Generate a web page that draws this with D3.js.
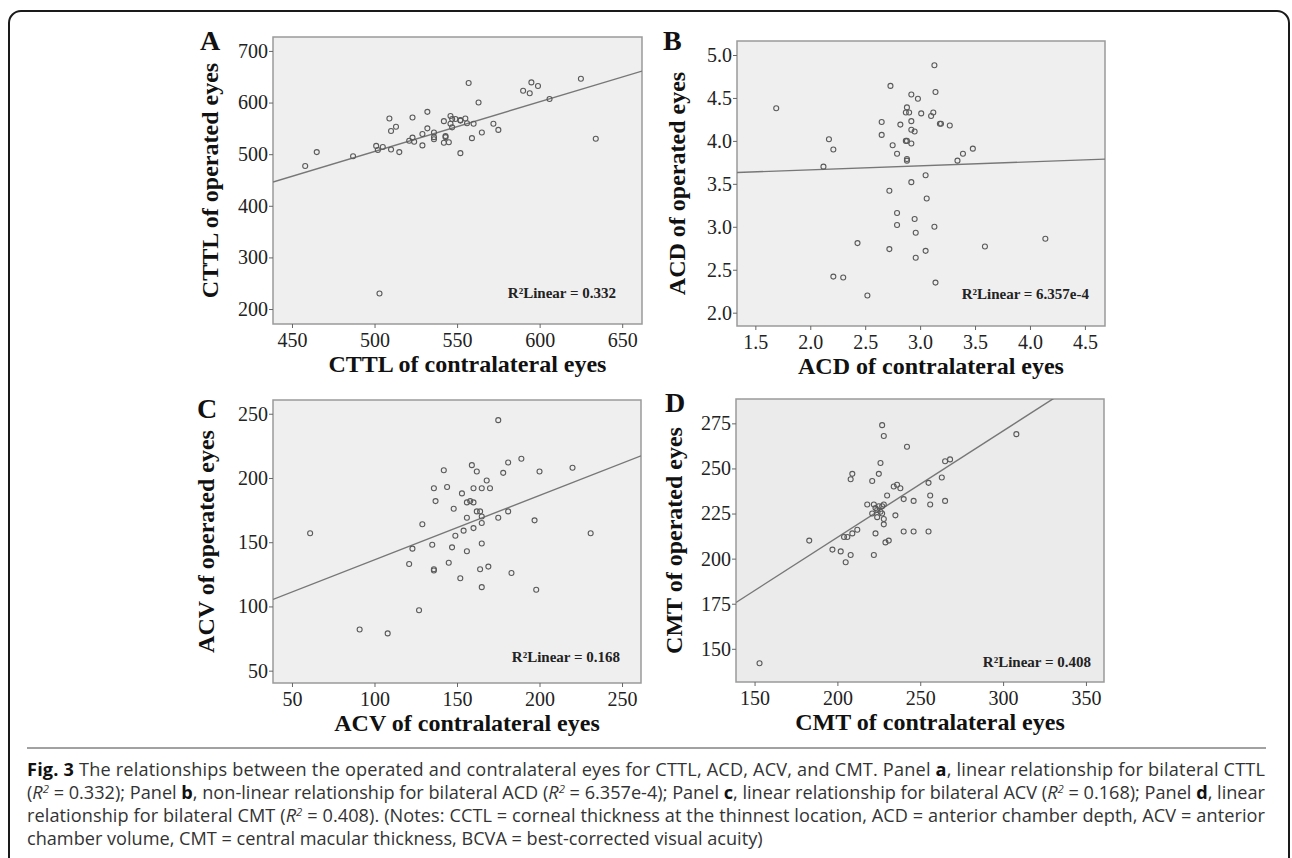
<!DOCTYPE html>
<html>
<head>
<meta charset="utf-8">
<script src="https://cdn.jsdelivr.net/npm/d3@7"></script>
<style>
body { margin: 0; background: #fff; }
svg { display: block; }
.axis text { font-family: "Liberation Serif", "Times New Roman", serif; font-size: 20px; fill: #222; }
.axis path { display: none; }
.axis line { stroke: #666; }
.title { font-family: "Liberation Serif", "Times New Roman", serif; font-weight: bold; font-size: 24px; fill: #111; }
.letter { font-family: "Liberation Serif", "Times New Roman", serif; font-weight: bold; font-size: 28px; fill: #111; }
.r2 { font-family: "Liberation Serif", "Times New Roman", serif; font-weight: bold; font-size: 15px; fill: #222; }
.dot { fill: none; stroke: #5a5a5a; stroke-width: 1.1; }
.fit { stroke: #777; stroke-width: 1.4; fill: none; }
.caption { font-family: "Open Sans", "Noto Sans", sans-serif; font-size: 15px; fill: #333; }
</style>
</head>
<body>
<svg id="fig" width="1292" height="858"></svg>
<script>
// Panel A: CTTL
var cttlContra = [458, 465, 487, 501, 502, 505, 509, 510, 510, 513, 515, 521, 523, 523, 524, 529, 529, 532, 532, 536,
    536, 536, 542, 542, 543, 543, 545, 546, 546, 547, 547, 549, 552, 552, 552, 555, 556, 557, 559, 560,
    563, 565, 572, 575, 590, 594, 595, 599, 606, 625, 634, 503];
var cttlOperated = [477, 504, 496, 516, 508, 514, 569, 545, 509, 553, 504, 526, 571, 532, 524, 539, 517, 582, 550, 542,
    533, 529, 564, 522, 535, 533, 523, 574, 559, 552, 568, 568, 565, 566, 502, 569, 560, 638, 531, 559,
    600, 542, 559, 547, 623, 618, 639, 632, 607, 646, 530, 230];

// Panel B: ACD
var acdContra = [1.69, 2.17, 2.21, 2.12, 2.43, 2.21, 2.30, 2.52, 2.73, 2.65, 2.65, 2.82, 2.75, 2.79, 2.88, 2.87, 2.90, 2.92, 2.98, 3.01,
    2.92, 2.92, 2.95, 2.87, 2.88, 2.92, 2.88, 2.88, 3.12, 3.10, 3.13, 3.14, 3.18, 3.19, 3.27, 3.34, 3.39, 3.48, 3.05, 2.92,
    2.72, 3.06, 2.79, 2.95, 2.79, 3.13, 2.96, 2.72, 3.05, 2.96, 3.14, 3.59, 4.14];
var acdOperated = [4.38, 4.02, 3.90, 3.70, 2.81, 2.42, 2.41, 2.20, 4.64, 4.22, 4.07, 4.19, 3.95, 3.85, 4.39, 4.33, 4.33, 4.54, 4.49, 4.32,
    4.23, 4.13, 4.11, 4.00, 4.00, 3.97, 3.79, 3.77, 4.33, 4.29, 4.88, 4.57, 4.20, 4.20, 4.18, 3.77, 3.85, 3.91, 3.60, 3.52,
    3.42, 3.33, 3.16, 3.09, 3.02, 3.00, 2.93, 2.74, 2.72, 2.64, 2.35, 2.77, 2.86];

// Panel C: ACV
var acvContra = [61, 129, 123, 121, 135, 136, 137, 136, 136, 142, 144, 148, 147, 145, 149, 153, 152, 154, 156, 158,
    160, 156, 156, 159, 162, 160, 160, 162, 164, 165, 165, 165, 165, 164, 165, 168, 170, 169, 175, 178,
    181, 181, 183, 189, 197, 198, 200, 220, 231, 175, 91, 108, 127];
var acvOperated = [157, 164, 145, 133, 148, 192, 182, 129, 128, 206, 193, 176, 146, 134, 155, 188, 122, 159, 181, 182,
    181, 169, 143, 210, 205, 192, 161, 174, 174, 192, 170, 165, 149, 129, 115, 198, 192, 131, 169, 204,
    212, 174, 126, 215, 167, 113, 205, 208, 157, 245, 82, 79, 97];

// Panel D: CMT
var cmtContra = [183, 197, 202, 205, 208, 204, 206, 209, 212, 208, 209, 218, 221, 222, 221, 223, 224, 224, 223, 222,
    225, 226, 225, 226, 227, 227, 228, 228, 228, 229, 231, 230, 234, 236, 238, 235, 240, 240, 242, 246,
    246, 228, 255, 255, 256, 256, 263, 265, 268, 265, 308, 227, 153];
var cmtOperated = [210, 205, 204, 198, 202, 212, 212, 214, 216, 244, 247, 230, 243, 230, 225, 228, 227, 223, 214, 202,
    247, 253, 229, 226, 225, 229, 230, 222, 219, 209, 210, 235, 240, 241, 239, 224, 233, 215, 262, 232,
    215, 268, 242, 215, 235, 230, 245, 254, 255, 232, 269, 274, 142];

// Fit lines: [intercept, slope]
var fitA = [24.2, 0.962];
var fitB = [3.570, 0.0466];
var fitC = [86.2, 0.501];
var fitD = [93.8, 0.590];

// Tick values
var ticksAx = [450, 500, 550, 600, 650];
var ticksAy = [200, 300, 400, 500, 600, 700];
var ticksBx = [1.5, 2.0, 2.5, 3.0, 3.5, 4.0, 4.5];
var ticksBy = [2.0, 2.5, 3.0, 3.5, 4.0, 4.5, 5.0];
var ticksCx = [50, 100, 150, 200, 250];
var ticksCy = [50, 100, 150, 200, 250];
var ticksDx = [150, 200, 250, 300, 350];
var ticksDy = [150, 175, 200, 225, 250, 275];

var labelsR2 = ['R\u00b2Linear = 0.332', 'R\u00b2Linear = 6.357e-4', 'R\u00b2Linear = 0.168', 'R\u00b2Linear = 0.408'];

var svg = d3.select('#fig');

// outer rounded frame
svg.append('rect')
    .attr('x', 9).attr('y', 11)
    .attr('width', 1280).attr('height', 900)
    .attr('rx', 12)
    .attr('fill', 'none')
    .attr('stroke', '#1a1a1a')
    .attr('stroke-width', 2);

var panels = [
    { id: 'A', xs: cttlContra, ys: cttlOperated, fit: fitA, xd: [438.5, 662], yd: [171, 727],
      xt: ticksAx, yt: ticksAy, fmt: d3.format('d'), xlab: 'CTTL of contralateral eyes', ylab: 'CTTL of operated eyes',
      r2: labelsR2[0], box: [273, 37, 642, 324], letter: [200, 50], ytx: 210, r2pos: [616, 298], bg: '#efefef' },
    { id: 'B', xs: acdContra, ys: acdOperated, fit: fitB, xd: [1.333, 4.683], yd: [1.845, 5.163],
      xt: ticksBx, yt: ticksBy, fmt: d3.format('.1f'), xlab: 'ACD of contralateral eyes', ylab: 'ACD of operated eyes',
      r2: labelsR2[1], box: [737, 41, 1105, 326], letter: [663, 50], ytx: 677, r2pos: [1089, 299], bg: '#efefef' },
    { id: 'C', xs: acvContra, ys: acvOperated, fit: fitC, xd: [38.5, 261.5], yd: [40.4, 260.7],
      xt: ticksCx, yt: ticksCy, fmt: d3.format('d'), xlab: 'ACV of contralateral eyes', ylab: 'ACV of operated eyes',
      r2: labelsR2[2], box: [273, 400, 641, 683], letter: [197, 418], ytx: 206, r2pos: [620, 662], bg: '#efefef' },
    { id: 'D', xs: cmtContra, ys: cmtOperated, fit: fitD, xd: [138.8, 360.9], yd: [131.6, 288.5],
      xt: ticksDx, yt: ticksDy, fmt: d3.format('d'), xlab: 'CMT of contralateral eyes', ylab: 'CMT of operated eyes',
      r2: labelsR2[3], box: [736, 399, 1104, 682], letter: [665, 412], ytx: 674, r2pos: [1091, 667], bg: '#ebebeb' }
];

panels.forEach(function (p) {
    var x0 = p.box[0], y0 = p.box[1], x1 = p.box[2], y1 = p.box[3];
    var x = d3.scaleLinear().domain(p.xd).range([x0, x1]);
    var y = d3.scaleLinear().domain(p.yd).range([y1, y0]);

    // plot area
    svg.append('rect')
        .attr('x', x0).attr('y', y0)
        .attr('width', x1 - x0).attr('height', y1 - y0)
        .attr('fill', p.bg)
        .attr('stroke', '#9a9a9a')
        .attr('stroke-width', 1.5);

    svg.append('clipPath').attr('id', 'clip' + p.id)
        .append('rect')
        .attr('x', x0).attr('y', y0)
        .attr('width', x1 - x0).attr('height', y1 - y0);

    // axes
    svg.append('g').attr('class', 'axis')
        .attr('transform', 'translate(0,' + y1 + ')')
        .call(d3.axisBottom(x).tickValues(p.xt).tickFormat(p.fmt).tickSize(4).tickPadding(5));
    svg.append('g').attr('class', 'axis')
        .attr('transform', 'translate(' + x0 + ',0)')
        .call(d3.axisLeft(y).tickValues(p.yt).tickFormat(p.fmt).tickSize(4).tickPadding(1));

    // fit line
    var line = d3.line()
        .x(function (d) { return x(d); })
        .y(function (d) { return y(p.fit[0] + p.fit[1] * d); });
    svg.append('path')
        .datum(p.xd)
        .attr('class', 'fit')
        .attr('clip-path', 'url(#clip' + p.id + ')')
        .attr('d', line);

    // points
    svg.append('g').selectAll('circle')
        .data(p.xs)
        .enter()
        .append('circle')
        .attr('class', 'dot')
        .attr('cx', function (d) { return x(d); })
        .attr('cy', function (d, i) { return y(p.ys[i]); })
        .attr('r', 2.5);

    // R2 label
    svg.append('text')
        .attr('class', 'r2')
        .attr('x', p.r2pos[0]).attr('y', p.r2pos[1])
        .attr('text-anchor', 'end')
        .text(p.r2);

    // axis titles
    svg.append('text')
        .attr('class', 'title')
        .attr('x', (x0 + x1) / 2 + 10)
        .attr('y', y1 + 48)
        .attr('text-anchor', 'middle')
        .text(p.xlab);
    svg.append('text')
        .attr('class', 'title')
        .attr('transform', 'translate(' + p.ytx + ',' + (y0 + y1) / 2 + ') rotate(-90)')
        .attr('text-anchor', 'middle')
        .attr('dy', '0.35em')
        .text(p.ylab);

    // panel letter
    svg.append('text')
        .attr('class', 'letter')
        .attr('x', p.letter[0]).attr('y', p.letter[1])
        .text(p.id);
});

// caption
svg.append('line')
    .attr('x1', 27).attr('x2', 1266)
    .attr('y1', 748).attr('y2', 748)
    .attr('stroke', '#444').attr('stroke-width', 1);

var captionLines = [
    [['b', 'Fig. 3'], ['', ' The relationships between the operated and contralateral eyes for CTTL, ACD, ACV, and CMT. Panel '], ['b', 'a'], ['', ', linear relationship for bilateral CTTL']],
    [['', '('], ['i', 'R'], ['sup', '2'], ['', ' = 0.332); Panel '], ['b', 'b'], ['', ', non-linear relationship for bilateral ACD ('], ['i', 'R'], ['sup', '2'], ['', ' = 6.357e-4); Panel '], ['b', 'c'], ['', ', linear relationship for bilateral ACV ('], ['i', 'R'], ['sup', '2'], ['', ' = 0.168); Panel '], ['b', 'd'], ['', ', linear']],
    [['', 'relationship for bilateral CMT ('], ['i', 'R'], ['sup', '2'], ['', ' = 0.408). (Notes: CCTL = corneal thickness at the thinnest location, ACD = anterior chamber depth, ACV = anterior']],
    [['', 'chamber volume, CMT = central macular thickness, BCVA = best-corrected visual acuity)']]
];

var captionTexts = [];
captionLines.forEach(function (parts, i) {
    var t = svg.append('text')
        .attr('class', 'caption')
        .attr('x', 27)
        .attr('y', 776 + i * 23);
    parts.forEach(function (pt, j) {
        var s = t.append('tspan').text(pt[1]);
        if (pt[0] === 'b') s.attr('font-weight', 'bold').attr('fill', '#111');
        if (pt[0] === 'i') s.attr('font-style', 'italic');
        if (pt[0] === 'sup') s.attr('font-size', '0.62em').attr('dy', '-0.55em').attr('font-style', 'italic');
        if (j > 0 && parts[j - 1][0] === 'sup') s.attr('dy', '0.34em');
    });
    captionTexts.push(t);
});

// fit the caption font to the widest full line, then justify the first three lines
var textWidth = 1238;
var widest = d3.max(captionTexts.slice(0, 3), function (t) { return t.node().getComputedTextLength(); });
var capSize = 15 * textWidth / widest;
captionTexts.forEach(function (t, i) {
    t.style('font-size', capSize + 'px');
    if (i < 3) t.attr('textLength', textWidth).attr('lengthAdjust', 'spacing');
});
</script>
</body>
</html>
